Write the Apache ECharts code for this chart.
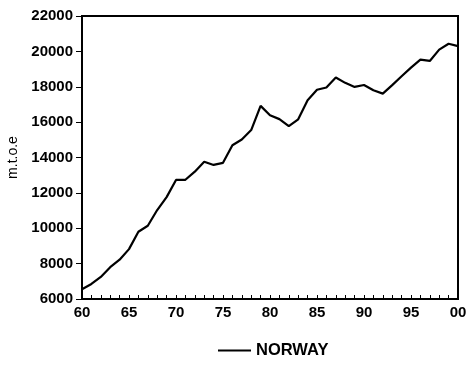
<!DOCTYPE html>
<html><head><meta charset="utf-8">
<script src="https://cdn.jsdelivr.net/npm/echarts@6/dist/echarts.min.js"></script>
<style>html,body{margin:0;padding:0;background:#fff}#c{width:468px;height:367px}</style>
</head><body><div id="c"></div>
<script>
const years = [60,61,62,63,64,65,66,67,68,69,70,71,72,73,74,75,76,77,78,79,80,81,82,83,84,85,86,87,88,89,90,91,92,93,94,95,96,97,98,99,100];
const norway = [6550,6850,7250,7800,8220,8820,9800,10140,11030,11760,12730,12740,13200,13760,13580,13700,14690,15020,15550,16920,16390,16170,15770,16160,17240,17830,17960,18520,18220,17990,18100,17800,17610,18090,18590,19080,19530,19460,20100,20430,20300];
const xTickLabels = {60:'60',65:'65',70:'70',75:'75',80:'80',85:'85',90:'90',95:'95',100:'00'};
const yTicks = [6000,8000,10000,12000,14000,16000,18000,20000,22000];

const font = 'Liberation Sans, Arial, sans-serif';
const chart = echarts.init(document.getElementById('c'), null, {renderer:'canvas'});
chart.setOption({
  animation:false,
  backgroundColor:'#fff',
  grid:{left:82,right:10,top:16,bottom:68,show:true,borderColor:'#000',borderWidth:2,backgroundColor:'transparent',
    containLabel:false,outerBoundsMode:'none'},
  xAxis:{type:'value',min:60,max:100,interval:1,
    axisLine:{show:true,lineStyle:{color:'#000',width:2}},
    axisTick:{show:true,inside:true,length:4,lineStyle:{color:'#000',width:1}},
    splitLine:{show:false},
    axisLabel:{color:'#000',fontSize:15,fontWeight:'bold',fontFamily:font,margin:6,interval:0,
      formatter:v=>xTickLabels[v]||''}},
  yAxis:{type:'value',min:yTicks[0],max:yTicks[yTicks.length-1],interval:2000,
    name:'m.t.o.e',nameLocation:'middle',nameGap:61,nameRotate:90,
    nameTextStyle:{color:'#000',fontSize:14,fontFamily:font},
    axisLine:{show:true,lineStyle:{color:'#000',width:2}},
    axisTick:{show:true,inside:false,length:6,lineStyle:{color:'#000',width:1}},
    splitLine:{show:false},
    axisLabel:{color:'#000',fontSize:15,fontWeight:'bold',fontFamily:font,margin:9,formatter:v=>String(v)}},
  legend:{bottom:3,left:213,itemWidth:33,itemHeight:12,itemGap:10,
    textStyle:{color:'#000',fontSize:16.5,fontWeight:'bold',fontFamily:font},
    data:[{name:'NORWAY',icon:'path://M0,5L33,5L33,7L0,7Z'}]},
  series:[{name:'NORWAY',type:'line',symbol:'none',
    data:years.map((y,i)=>[y,norway[i]]),
    lineStyle:{color:'#000',width:2.2},itemStyle:{color:'#000'}}]
});
</script></body></html>
